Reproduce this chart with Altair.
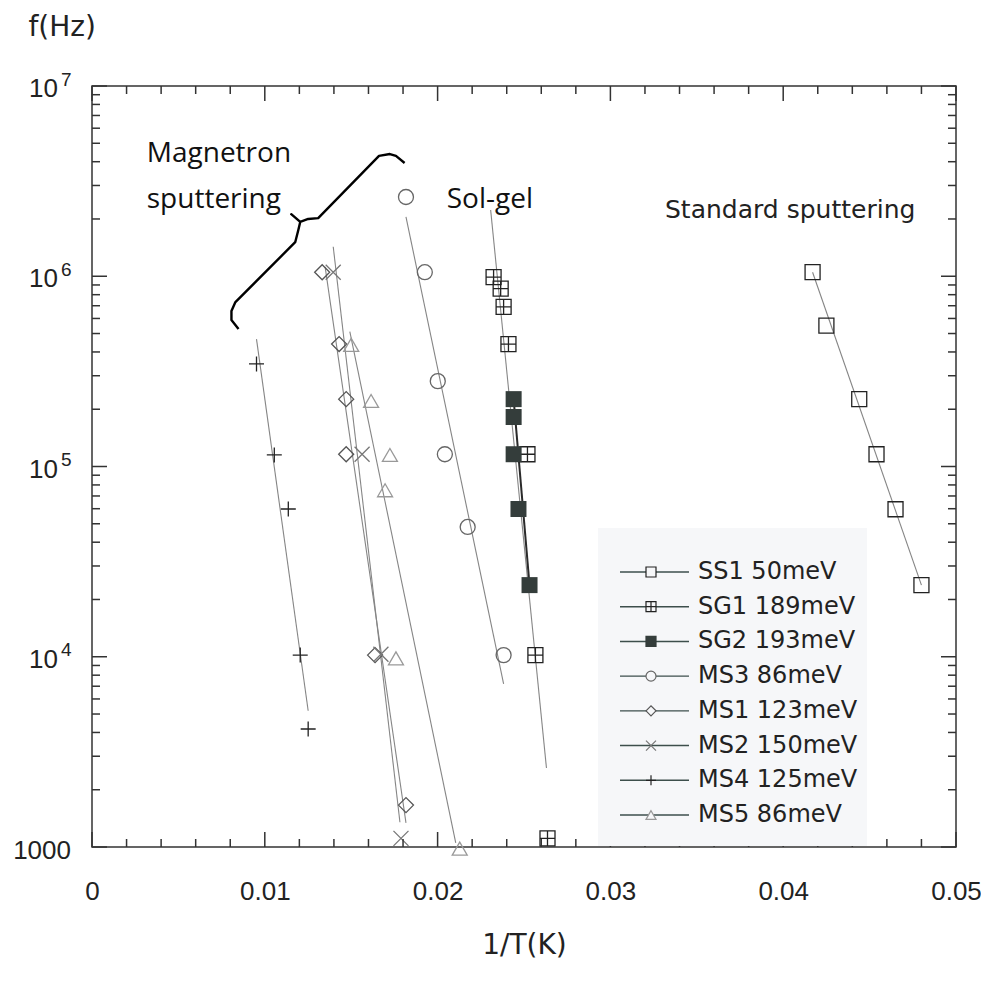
import altair as alt
import pandas as pd

# ---------------- data ----------------
series = ["SS1 50meV", "SG1 189meV", "SG2 193meV", "MS3 86meV",
          "MS1 123meV", "MS2 150meV", "MS4 125meV", "MS5 86meV"]

ss1_x = [0.0417, 0.0425, 0.0444, 0.0454, 0.0465, 0.0480]
ss1_f = [1.05e6, 5.5e5, 2.26e5, 1.16e5, 5.96e4, 2.38e4]
ss1_fit_x = [0.0417, 0.0480]
ss1_fit_f = [1.05e6, 2.38e4]

sg1_x = [0.02324, 0.02365, 0.02382, 0.0241, 0.0252, 0.02566, 0.02636]
sg1_f = [9.9e5, 8.6e5, 6.9e5, 4.4e5, 1.16e5, 1.02e4, 1.11e3]
sg1_fit_x = [0.02307, 0.0263]
sg1_fit_f = [2.23e6, 2.6e3]

sg2_x = [0.0244, 0.0244, 0.0244, 0.02468, 0.02532]
sg2_f = [2.26e5, 1.82e5, 1.16e5, 5.98e4, 2.38e4]
sg2_fit_x = [0.0244, 0.02532]
sg2_fit_f = [2.26e5, 2.38e4]

ms3_x = [0.01817, 0.01926, 0.02001, 0.02042, 0.02174, 0.02382]
ms3_f = [2.61e6, 1.05e6, 2.81e5, 1.16e5, 4.81e4, 1.02e4]
ms3_fit_x = [0.01817, 0.02382]
ms3_fit_f = [2.05e6, 7.2e3]

ms1_x = [0.01332, 0.0143, 0.01471, 0.01471, 0.01638, 0.01817]
ms1_f = [1.05e6, 4.4e5, 2.26e5, 1.16e5, 1.02e4, 1.66e3]
ms1_fit_x = [0.01349, 0.01817]
ms1_fit_f = [1.12e6, 1.34e3]

ms2_x = [0.01396, 0.01563, 0.01672, 0.01788]
ms2_f = [1.05e6, 1.16e5, 1.03e4, 1.11e3]
ms2_fit_x = [0.01396, 0.01782]
ms2_fit_f = [1.43e6, 1.35e3]

ms4_x = [0.00952, 0.01055, 0.01136, 0.01205, 0.01251]
ms4_f = [3.46e5, 1.15e5, 5.98e4, 1.02e4, 4.17e3]
ms4_fit_x = [0.00952, 0.01251]
ms4_fit_f = [4.67e5, 5.2e3]

ms5_x = [0.0150, 0.01615, 0.01724, 0.01696, 0.01759, 0.02128]
ms5_f = [4.36e5, 2.21e5, 1.15e5, 7.5e4, 9.8e3, 9.8e2]
ms5_fit_x = [0.01492, 0.02105]
ms5_fit_f = [5.12e5, 1.05e3]

# hand-drawn bracket next to "Magnetron sputtering"
bracket_x = [0.01809, 0.01759, 0.01724, 0.01661, 0.01309, 0.01251, 0.01205,
             0.01153, 0.01205, 0.01194, 0.01176, 0.0083, 0.00807, 0.00807, 0.00848]
bracket_f = [3.94e6, 4.29e6, 4.39e6, 4.29e6, 2.02e6, 2.0e6, 1.93e6,
             2.12e6, 1.93e6, 1.75e6, 1.51e6, 7.32e5, 6.57e5, 5.89e5, 5.28e5]

# annotations (left edge, baseline)
ann_cal_text = ["Magnetron", "sputtering", "Sol-gel"]
ann_cal_x = [0.00317, 0.00317, 0.02053]
ann_cal_f = [3.98e6, 2.29e6, 2.29e6]
ann_ss_text = ["Standard sputtering"]
ann_ss_x = [0.03316]
ann_ss_f = [2.02e6]

# axes ticks / labels
x_tick_values = [0.0, 0.01, 0.02, 0.03, 0.04, 0.05]
x_minor_values = [0.002, 0.004, 0.006, 0.008, 0.012, 0.014, 0.016, 0.018,
                  0.022, 0.024, 0.026, 0.028, 0.032, 0.034, 0.036, 0.038,
                  0.042, 0.044, 0.046, 0.048]
y_tick_values = [1e3, 1e4, 1e5, 1e6, 1e7]
y_pow_values = [1e4, 1e5, 1e6, 1e7]
y_pow_exps = ["4", "5", "6", "7"]
y_plain_values = [1e3]
y_plain_labels = ["1000"]
y_minor_values = [m * d for d in [1e3, 1e4, 1e5, 1e6] for m in range(2, 10)]

# ---------------- build tables ----------------
pts = {
    "SS1 50meV": (ss1_x, ss1_f), "SG1 189meV": (sg1_x, sg1_f),
    "SG2 193meV": (sg2_x, sg2_f), "MS3 86meV": (ms3_x, ms3_f),
    "MS1 123meV": (ms1_x, ms1_f), "MS2 150meV": (ms2_x, ms2_f),
    "MS4 125meV": (ms4_x, ms4_f), "MS5 86meV": (ms5_x, ms5_f),
}
fits = {
    "SS1 50meV": (ss1_fit_x, ss1_fit_f), "SG1 189meV": (sg1_fit_x, sg1_fit_f),
    "SG2 193meV": (sg2_fit_x, sg2_fit_f), "MS3 86meV": (ms3_fit_x, ms3_fit_f),
    "MS1 123meV": (ms1_fit_x, ms1_fit_f), "MS2 150meV": (ms2_fit_x, ms2_fit_f),
    "MS4 125meV": (ms4_fit_x, ms4_fit_f), "MS5 86meV": (ms5_fit_x, ms5_fit_f),
}
pts_df = pd.concat([pd.DataFrame({"series": k, "x": v[0], "f": v[1]}) for k, v in pts.items()])
fit_df = pd.concat([pd.DataFrame({"series": k, "x": v[0], "f": v[1]}) for k, v in fits.items()])
open_pts = pts_df[pts_df.series != "SG2 193meV"]
sg2_pts = pts_df[pts_df.series == "SG2 193meV"]
gray_fits = fit_df[fit_df.series != "SG2 193meV"]
sg2_fit = fit_df[fit_df.series == "SG2 193meV"]

bracket_df = pd.DataFrame({"x": bracket_x, "f": bracket_f, "i": list(range(len(bracket_x)))})
cal_df = pd.DataFrame({"t": ann_cal_text, "x": ann_cal_x, "f": ann_cal_f})
ss_df = pd.DataFrame({"t": ann_ss_text, "x": ann_ss_x, "f": ann_ss_f})

# ---------------- styles ----------------
W, H = 864, 761
INK = "#222222"
FRAME = "#333333"
shapes = ["square", "M-1,-1H1V1H-1ZM0,-1V1M-1,0H1", "square", "circle", "diamond",
          "M-1,-1L1,1M-1,1L1,-1", "M-1,0H1M0,-1V1", "triangle-up"]
colors = ["#222222", "#222222", "#343d3b", "#666666", "#555555", "#777777", "#222222", "#999999"]
sizes = [225, 225, 256, 196, 225, 169, 256, 196]
leg_fills = ["#f6f7f9", "#f6f7f9", "#343d3b", "#f6f7f9", "#f6f7f9", "#f6f7f9", "#f6f7f9", "#f6f7f9"]

shape_scale = alt.Scale(domain=series, range=shapes)
color_scale = alt.Scale(domain=series, range=colors)
size_scale = alt.Scale(domain=series, range=sizes)

xscale = alt.Scale(domain=[0, 0.05], nice=False, zero=False)
yscale = alt.Scale(type="log", domain=[1000, 1e7], nice=False)

xaxis = alt.Axis(values=x_tick_values,
                 labelExpr="datum.value == 0 ? '0' : format(datum.value, '.2f')",
                 labelFont="Liberation Sans", labelFontSize=26, labelColor=INK,
                 labelPadding=31, labelFlush=False, labelOverlap=False, labelBound=False,
                 ticks=False, tickSize=0, domain=False, grid=False,
                 title="1/T(K)", titleFont="DejaVu Sans", titleFontSize=28,
                 titleFontWeight="normal", titleColor=INK, titleY=98, titleBaseline="middle")
yaxis = alt.Axis(labels=False, ticks=False, tickSize=0, domain=False, grid=False,
                 title="f(Hz)", titleAngle=0, titleAlign="left", titleBaseline="middle",
                 titleX=-64, titleY=-59, titleFont="DejaVu Sans", titleFontSize=28,
                 titleFontWeight="normal", titleColor=INK)

X = alt.X("x:Q", scale=xscale, axis=xaxis)
Y = alt.Y("f:Q", scale=yscale, axis=yaxis)

# ---------------- main layers ----------------
lines = alt.Chart(gray_fits).mark_line(color="#858585", strokeWidth=1.1).encode(
    x=X, y=Y, detail="series:N")
sg2_line = alt.Chart(sg2_fit).mark_line(color="#2a2a2a", strokeWidth=2).encode(x=X, y=Y)

open_marks = alt.Chart(open_pts).mark_point(filled=False, strokeWidth=1.3, opacity=1).encode(
    x=X, y=Y,
    shape=alt.Shape("series:N", scale=shape_scale, legend=None),
    color=alt.Color("series:N", scale=color_scale, legend=None),
    size=alt.Size("series:N", scale=size_scale, legend=None),
)
sg2_marks = alt.Chart(sg2_pts).mark_point(filled=True, shape="square", size=256,
                                          color="#343d3b", opacity=1).encode(x=X, y=Y)

bracket = alt.Chart(bracket_df).mark_line(color="#000000", strokeWidth=2.4,
                                          strokeJoin="round").encode(x=X, y=Y, order="i:Q")

cal_text = alt.Chart(cal_df).mark_text(align="left", baseline="alphabetic", font="Open Sans",
                                       fontSize=28, color="#111111").encode(x=X, y=Y, text="t:N")
ss_text = alt.Chart(ss_df).mark_text(align="left", baseline="alphabetic", font="DejaVu Sans",
                                     fontSize=25, color=INK).encode(x=X, y=Y, text="t:N")

# inward ticks on all four sides
xmaj = pd.DataFrame({"x": x_tick_values})
xmin = pd.DataFrame({"x": x_minor_values})
ymaj = pd.DataFrame({"f": y_tick_values})
ymin = pd.DataFrame({"f": y_minor_values})
tk = dict(color=FRAME, strokeWidth=1.5)
ticks = [
    alt.Chart(xmaj).mark_rule(**tk).encode(x=X, y=alt.value(H), y2=alt.value(H - 15)),
    alt.Chart(xmin).mark_rule(**tk).encode(x=X, y=alt.value(H), y2=alt.value(H - 8)),
    alt.Chart(xmaj).mark_rule(**tk).encode(x=X, y=alt.value(0), y2=alt.value(15)),
    alt.Chart(xmin).mark_rule(**tk).encode(x=X, y=alt.value(0), y2=alt.value(8)),
    alt.Chart(ymaj).mark_rule(**tk).encode(y=Y, x=alt.value(0), x2=alt.value(15)),
    alt.Chart(ymin).mark_rule(**tk).encode(y=Y, x=alt.value(0), x2=alt.value(8)),
    alt.Chart(ymaj).mark_rule(**tk).encode(y=Y, x=alt.value(W), x2=alt.value(W - 15)),
    alt.Chart(ymin).mark_rule(**tk).encode(y=Y, x=alt.value(W), x2=alt.value(W - 8)),
]

# y tick labels with superscripts
pow_df = pd.DataFrame({"f": y_pow_values, "e": y_pow_exps})
plain_df = pd.DataFrame({"f": y_plain_values, "t": y_plain_labels})
ylab_base = alt.Chart(pow_df).mark_text(align="right", baseline="middle", font="Liberation Sans",
                                        fontSize=26, color=INK, dy=3).encode(
    x=alt.value(-34), y=Y, text=alt.value("10"))
ylab_sup = alt.Chart(pow_df).mark_text(align="left", baseline="middle", font="Liberation Sans",
                                       fontSize=19, color=INK, dy=-6.5).encode(
    x=alt.value(-31), y=Y, text="e:N")
ylab_plain = alt.Chart(plain_df).mark_text(align="right", baseline="middle", font="Liberation Sans",
                                           fontSize=26, color=INK, dy=4).encode(
    x=alt.value(-21), y=Y, text="t:N")

main = alt.layer(lines, sg2_line, open_marks, sg2_marks, bracket, cal_text, ss_text,
                 *ticks, ylab_base, ylab_sup, ylab_plain)

# ---------------- legend (drawn as layers) ----------------
leg_df = pd.DataFrame({"series": series, "row": list(range(len(series)))})
LY = alt.Y("row:Q", scale=alt.Scale(domain=[0, 7], range=[486, 729]), axis=None)
box = alt.Chart(pd.DataFrame({"row": [0]})).mark_rect(fill="#f6f7f9").encode(
    x=alt.value(506), x2=alt.value(775), y=alt.value(442), y2=alt.value(760))
leg_lines = alt.Chart(leg_df).mark_rule(color="#3d4f4c", strokeWidth=1.4).encode(
    x=alt.value(528), x2=alt.value(597), y=LY)
leg_marks = alt.Chart(leg_df).mark_point(filled=True, strokeWidth=1.2, size=100, opacity=1).encode(
    x=alt.value(559), y=LY,
    shape=alt.Shape("series:N", scale=shape_scale, legend=None),
    fill=alt.Fill("series:N", scale=alt.Scale(domain=series, range=leg_fills), legend=None),
    stroke=alt.Stroke("series:N", scale=alt.Scale(domain=series, range=colors), legend=None),
)
leg_text = alt.Chart(leg_df).mark_text(align="left", baseline="middle", font="DejaVu Sans",
                                       fontSize=24, color=INK).encode(
    x=alt.value(606), y=LY, text="series:N")
legend = alt.layer(box, leg_lines, leg_marks, leg_text)

chart = alt.layer(main, legend).resolve_scale(y="independent").properties(
    width=W, height=H,
    autosize=alt.AutoSizeParams(type="none"),
    padding={"left": 84, "top": 78, "right": 25, "bottom": 126},
).configure_view(stroke=FRAME, strokeWidth=1.5)

chart.save("out.html", embed_options={"renderer": "svg", "actions": False})
